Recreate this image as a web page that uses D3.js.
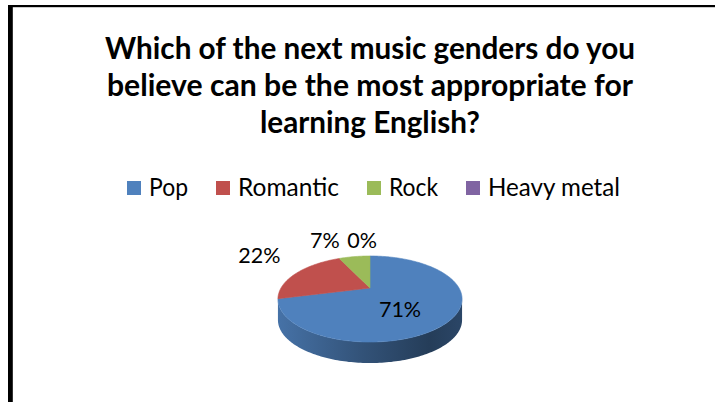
<!DOCTYPE html>
<html>
<head>
<meta charset="utf-8">
<script src="https://cdn.jsdelivr.net/npm/d3@7"></script>
<style>
  html, body { margin: 0; padding: 0; background: #fff; }
  svg { display: block; }
</style>
</head>
<body>
<div class="svg-class"></div>
<script>
// chart data
var titleLines = ["Which of the next music genders do you",
                  "believe can be the most appropriate for",
                  "learning English?"];
var genres = ["Pop", "Romantic", "Rock", "Heavy metal"];
var shares = [71, 22, 7, 0];
var colors = ["#4F81BD", "#C0504D", "#9BBB59", "#8064A2"];

var width = 715, height = 402;

// pie geometry (3d look with a bit of perspective)
var cx = 370, cy = 288,
    rx = 89, ry = 40.2,
    persp = 0.256,
    depth = 21;

var font = "Lato, 'Open Sans', sans-serif";

var svg = d3.select(".svg-class")
    .append("svg")
    .attr("width", width)
    .attr("height", height);

var defs = svg.append("defs");

svg.append("rect")
    .attr("width", width)
    .attr("height", height)
    .attr("fill", "#fff");

// frame (only top and left edges show)
svg.append("rect")
    .attr("x", 8).attr("y", 5)
    .attr("width", width - 8).attr("height", 2.2)
    .attr("fill", "#000");
svg.append("rect")
    .attr("x", 8).attr("y", 5)
    .attr("width", 4.8).attr("height", height - 5)
    .attr("fill", "#000");

// Chart title
var titleWidths = [530, 526, 220];
svg.append("g")
    .selectAll("text")
    .data(titleLines)
    .enter()
    .append("text")
    .attr("x", 370)
    .attr("y", function (d, i) { return 58.5 + i * 37; })
    .attr("text-anchor", "middle")
    .attr("textLength", function (d, i) { return titleWidths[i]; })
    .attr("lengthAdjust", "spacingAndGlyphs")
    .style("font-family", font)
    .style("font-weight", "bold")
    .style("font-size", "29.5px")
    .attr("fill", "#000")
    .text(function (d) { return d; });

// Legend
var legendWidths = [39, 101, 49, 132];
var legend = svg.append("g").attr("class", "legend");
var legendItems = legend.selectAll("g")
    .data(genres)
    .enter()
    .append("g");

legendItems.append("rect")
    .attr("width", 14)
    .attr("height", 14)
    .attr("y", 181)
    .attr("fill", function (d, i) { return colors[i]; });

legendItems.append("text")
    .attr("x", 22)
    .attr("y", 195.5)
    .attr("textLength", function (d, i) { return legendWidths[i]; })
    .attr("lengthAdjust", "spacingAndGlyphs")
    .style("font-family", font)
    .style("font-size", "25.5px")
    .attr("fill", "#000")
    .text(function (d) { return d; });

var lx = 0;
var legendPos = [];
legendWidths.forEach(function (w) {
    legendPos.push(lx);
    lx += 22 + w + 28;
});
var legendWidth = lx - 28;
var legendStart = 373.5 - legendWidth / 2;
legendItems.attr("transform", function (d, i) {
    return "translate(" + (legendStart + legendPos[i]) + ",0)";
});

// pie layout
var pie = d3.pie()
    .sort(null)
    .value(function (d) { return d; });
var arcs = pie(shares);

function project(theta, r, dy) {
    var u = r * Math.sin(theta),
        v = r * Math.cos(theta),
        s = 1 + persp * v;
    return [cx + rx * u / s, cy - ry * v / s + (dy || 0)];
}

function rimPoints(a0, a1, dy) {
    var n = Math.max(2, Math.ceil(Math.abs(a1 - a0) / 0.02));
    return d3.range(n + 1).map(function (j) {
        return project(a0 + (a1 - a0) * j / n, 1, dy);
    });
}

var line = d3.line();

// side wall gradients
var x0 = cx - rx * 1.04, x1 = cx + rx * 1.04;
colors.forEach(function (c, i) {
    var base = d3.color(c);
    var g = defs.append("linearGradient")
        .attr("id", "side" + i)
        .attr("gradientUnits", "userSpaceOnUse")
        .attr("x1", x0).attr("x2", x1)
        .attr("y1", 0).attr("y2", 0);
    [[0, 0.35], [0.45, 1.25], [0.82, 2.1], [1, 1.7]].forEach(function (s) {
        g.append("stop")
            .attr("offset", s[0])
            .attr("stop-color", base.darker(s[1]).formatHex());
    });
});

// visible front part of the rim
var frontR = Math.acos(-persp),
    frontL = 2 * Math.PI - frontR;

var sides = svg.append("g").attr("class", "sides");
arcs.forEach(function (a, i) {
    var lo = Math.max(a.startAngle, frontR),
        hi = Math.min(a.endAngle, frontL);
    if (hi <= lo) return;
    var pts = rimPoints(lo, hi, 0).concat(rimPoints(hi, lo, depth));
    sides.append("path")
        .attr("d", line(pts) + "Z")
        .attr("fill", "url(#side" + i + ")");
});

// top faces
svg.append("g")
    .selectAll("path")
    .data(arcs)
    .enter()
    .append("path")
    .attr("d", function (a) {
        if (a.endAngle - a.startAngle <= 0) return null;
        var pts = [project(0, 0, 0)].concat(rimPoints(a.startAngle, a.endAngle, 0));
        return line(pts) + "Z";
    })
    .attr("fill", function (a, i) { return colors[i]; })
    .attr("stroke", function (a, i) { return colors[i]; })
    .attr("stroke-width", 0.6);

// data labels: inside for the big slice, outside for the rest
var labelShift = [[0, 0], [-1, -9], [-23, -3], [-8, -2]];
svg.append("g")
    .selectAll("text")
    .data(arcs)
    .enter()
    .append("text")
    .attr("transform", function (a, i) {
        var mid = (a.startAngle + a.endAngle) / 2;
        var big = a.value > 50;
        var p = big ? project(mid, 0.4, depth / 2) : project(mid, 1.6, 0);
        return "translate(" + (p[0] + labelShift[i][0]) + "," + (p[1] + labelShift[i][1]) + ")";
    })
    .attr("text-anchor", "middle")
    .attr("dy", "0.36em")
    .style("font-family", font)
    .style("font-size", "21.5px")
    .attr("fill", "#000")
    .text(function (a) { return d3.format(".0%")(a.value / 100); });
</script>
</body>
</html>
